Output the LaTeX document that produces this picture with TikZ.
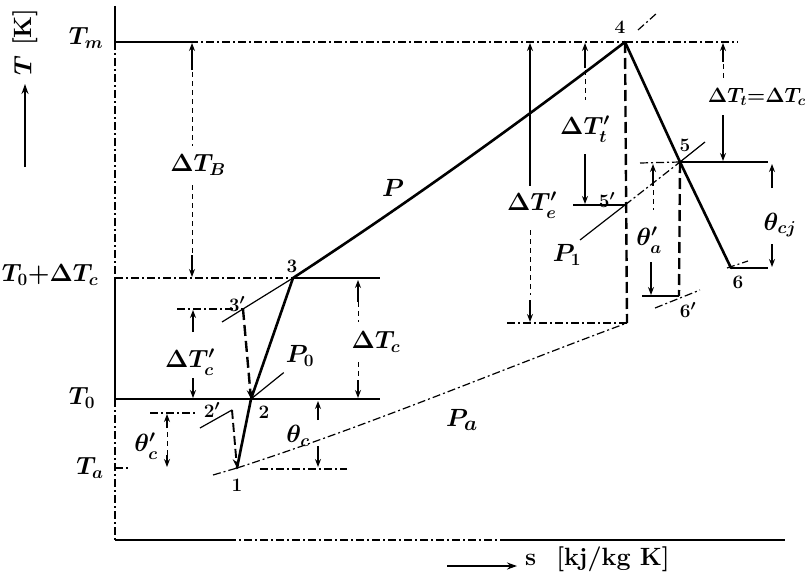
\documentclass[tikz,border=0pt]{standalone}
\usetikzlibrary{arrows.meta}
\begin{document}
\begin{tikzpicture}[x=1pt,y=-1pt,
  heavy/.style={line width=2.6pt, line join=round, line cap=round},
  thindraw/.style={line width=1.2pt},
  dashdraw/.style={line width=1.2pt, dash pattern=on 8pt off 3pt on 2pt off 3pt},
  bigdash/.style={line width=2.4pt, dash pattern=on 11pt off 5pt},
  dimtip/.style={line width=1.2pt, -{Stealth[length=8pt,width=6pt]}},
  dimdash/.style={line width=1pt, dash pattern=on 5pt off 4pt},
  lab/.style={font=\fontsize{24}{26}\selectfont\boldmath, inner sep=0pt},
  ptlab/.style={font=\fontsize{19}{22}\selectfont\bfseries\boldmath, inner sep=0pt}
]
\useasboundingbox (0,0) rectangle (810,578);

% ---- cycle points
\coordinate (p1) at (237,468);
\coordinate (p2) at (251,399);
\coordinate (p2p) at (232,410);
\coordinate (p3) at (293,278);
\coordinate (p3p) at (243,309);
\coordinate (p4) at (625,42);
\coordinate (p4b) at (627,323);
\coordinate (p5) at (680,162);
\coordinate (p5p) at (625,205);
\coordinate (p6) at (731,268);
\coordinate (p6p) at (679,296);

% ---- axes
\coordinate (ytop) at (115,6);
\coordinate (ym) at (115,42);
\coordinate (y3) at (115,278);
\coordinate (y0) at (115,399);
\coordinate (ya) at (115,468);
\coordinate (org) at (115,540);
\coordinate (xm1) at (228,540);
\coordinate (xm2) at (500,540);
\coordinate (xend) at (785,540);
\draw[line width=1.7pt] (ytop) -- (ym);
\draw[dashdraw] (ym) -- (y3);
\draw[thindraw] (y3) -- (y0);
\draw[dashdraw] (y0) -- (org);
\draw[thindraw] (org) -- (xm1);
\draw[dashdraw] (xm1) -- (xm2);
\draw[line width=1.5pt] (xm2) -- (xend);

% ---- level lines
\coordinate (tm1) at (190,42);
\coordinate (tm2) at (738,42);
\draw[thindraw] (ym) -- (tm1);
\draw[dashdraw] (tm1) -- (p4);
\draw[dashdraw] (p4) -- (tm2);
\coordinate (l3e) at (380,278);
\draw[dashdraw] (y3) -- (p3);
\draw[thindraw] (p3) -- (l3e);
\coordinate (l3ps) at (177,309);
\draw[dashdraw] (l3ps) -- (p3p);
\coordinate (l0e) at (380,399);
\draw[thindraw] (y0) -- (l0e);
\coordinate (l2ps) at (150,413);
\coordinate (l2pe) at (196,413);
\draw[dashdraw] (l2ps) -- (l2pe);
\coordinate (lae) at (130,468);
\draw[dashdraw] (ya) -- (lae);
\coordinate (l1s) at (260,469);
\coordinate (l1e) at (347,469);
\draw[dashdraw] (l1s) -- (l1e);
\coordinate (l5s) at (640,163);
\coordinate (l5e) at (768,162);
\draw[dashdraw] (l5s) -- (p5);
\draw[thindraw] (p5) -- (l5e);
\coordinate (l6e) at (768,268);
\draw[thindraw] (p6) -- (l6e);
\coordinate (l6ps) at (642,296);
\draw[thindraw] (l6ps) -- (p6p);
\coordinate (l5ps) at (573,205);
\draw[thindraw] (l5ps) -- (p5p);
\coordinate (l4bs) at (507,323);
\draw[dashdraw] (l4bs) -- (p4b);

% ---- isobars (thin)
\coordinate (i3s) at (222,322);
\draw[thindraw] (i3s) -- (p3);
\coordinate (i2ps) at (200,428);
\draw[thindraw] (i2ps) -- (p2p);
\coordinate (ias) at (213,475);
\draw[dashdraw] (ias) -- (p1);
\draw[dashdraw] (p1) .. controls (370,425) and (500,370) .. (p4b);
\coordinate (i1s) at (580,240);
\draw[thindraw] (i1s) -- (p5p);
\draw[dashdraw] (p5p) -- (p5);
\coordinate (i1e) at (705,142);
\draw[thindraw] (p5) -- (i1e);
\coordinate (i4s) at (638,30);
\coordinate (i4e) at (657,13);
\draw[dashdraw] (i4s) -- (i4e);
\coordinate (i6ps) at (655,308);
\coordinate (i6pe) at (700,290);
\draw[dashdraw] (i6ps) -- (i6pe);
\coordinate (i6s) at (727,268);
\coordinate (i6e) at (748,261);
\draw[dashdraw] (i6s) -- (i6e);

% ---- heavy process lines
\draw[heavy] (p1) -- (p2) -- (p3);
\draw[heavy] (p3) .. controls (400,208) and (510,130) .. (p4);
\draw[heavy] (p4) -- (p5) -- (p6);
\draw[bigdash] (p4) -- (p4b);
\draw[bigdash] (p5) -- (p6p);
\draw[bigdash, -{Stealth[length=9pt,width=7pt]}] (p3p) -- (p2);
\draw[line width=1.9pt, dash pattern=on 9pt off 4pt, -{Stealth[length=9pt,width=7pt]}] (p2p) -- (p1);

% ---- point labels
\node[ptlab] (n1) at (237,485) {1};
\node[ptlab] (n2) at (264,412) {2};
\node[ptlab] (n2p) at (212,410) {2$'$};
\node[ptlab] (n3) at (292,266) {3};
\node[ptlab] (n3p) at (237,304) {3$'$};
\node[ptlab] (n4) at (620,27) {4};
\node[ptlab] (n5) at (685,145) {5};
\node[ptlab] (n5p) at (607,200) {5$'$};
\node[ptlab] (n6) at (738,282) {6};
\node[ptlab] (n6p) at (688,310) {6$'$};

% ---- pressure labels
\node[font=\fontsize{36}{38}\selectfont\boldmath, inner sep=0pt] (lP) at (393,188) {$P$};
\node[font=\fontsize{30}{32}\selectfont\boldmath, inner sep=0pt] (lPa) at (462,420) {$P_a$};
\node[font=\fontsize{24}{26}\selectfont\boldmath, inner sep=0pt] (lP0) at (300,356) {$P_0$};
\draw[thindraw] (lP0.south west) ++(-2,6) coordinate (lp0a) -- (p2);
\node[font=\fontsize{26}{28}\selectfont\boldmath, inner sep=0pt] (lP1) at (567,255) {$P_1$};

% ---- axis temperature labels
\node[lab] (lTm) at (86,38) {$T_m$};
\node[lab] (lT3) at (50,275) {$T_0{+}\Delta T_c$};
\node[lab] (lT0) at (82,398) {$T_0$};
\node[lab] (lTa) at (90,468) {$T_a$};

% ---- axis titles
\node[font=\fontsize{25}{28}\selectfont\bfseries\boldmath, rotate=90, inner sep=0pt] (ylab) at (25,42) {$T$\hspace{10pt}[K]};
\coordinate (ya1) at (25,167);
\coordinate (ya2) at (25,84);
\draw[line width=1.7pt, -{Stealth[length=10pt,width=7pt]}] (ya1) -- (ya2);
\coordinate (xa1) at (447,566);
\coordinate (xa2) at (517,566);
\draw[line width=1.7pt, -{Stealth[length=10pt,width=7pt]}] (xa1) -- (xa2);
\node[font=\fontsize{25}{28}\selectfont\bfseries, anchor=base west, inner sep=0pt] (xlab) at (525,565) {s\hspace{20pt}[kj/kg K]};

% ---- dimension: Delta T_B
\draw[dimtip] (192,70) -- (192,43);
\draw[dimdash] (192,72) -- (192,146);
\node[lab] (lTB) at (198,165) {$\Delta T_B$};
\draw[dimdash] (192,185) -- (192,255);
\draw[dimtip] (192,255) -- (192,277);

% ---- Delta T'_c
\draw[dimtip] (193,332) -- (193,310);
\node[lab] (lTcp) at (190,362) {$\Delta T'_c$};
\draw[dimtip] (193,378) -- (193,398);

% ---- Delta T_c
\draw[dimtip] (358,302) -- (358,280);
\draw[dimdash] (358,302) -- (358,322);
\node[lab] (lTc) at (376,342) {$\Delta T_c$};
\draw[dimdash] (358,362) -- (358,380);
\draw[dimtip] (358,380) -- (358,398);

% ---- theta_c
\node[lab] (lthc) at (298,436) {$\theta_c$};
\draw[dimtip] (318,420) -- (318,401);
\draw[dimtip] (318,446) -- (318,467);

% ---- theta'_c
\draw[dimtip] (167,428) -- (167,414);
\node[lab] (lthcp) at (146,446) {$\theta'_c$};
\draw[dimdash] (167,432) -- (167,455);
\draw[dimtip] (167,455) -- (167,467);

% ---- Delta T'_e
\draw[dimtip] (530,68) -- (530,43);
\draw[thindraw] (530,68) -- (530,186);
\node[lab] (lTep) at (532,205) {$\Delta T'_e$};
\draw[dimdash] (530,230) -- (530,295);
\draw[dimtip] (530,300) -- (530,322);

% ---- Delta T'_t
\draw[dimtip] (585,68) -- (585,43);
\draw[dimdash] (585,70) -- (585,100);
\node[lab] (lTtp) at (585,129) {$\Delta T'_t$};
\draw[dimtip] (585,154) -- (585,204);

% ---- Delta T_t = Delta T_c
\draw[dimtip] (723,62) -- (723,43);
\draw[dimdash] (723,64) -- (723,80);
\node[font=\fontsize{20}{22}\selectfont\boldmath, inner sep=0pt, anchor=east] (lTt) at (806,97) {$\Delta T_t{=}\Delta T_c$};
\draw[dimtip] (723,115) -- (723,161);

% ---- theta_cj
\draw[dimtip] (772,188) -- (772,164);
\node[lab] (lthcj) at (780,225) {$\theta_{cj}$};
\draw[dimtip] (772,244) -- (772,267);

% ---- theta'_a
\draw[dimtip] (653,186) -- (653,164);
\draw[dimdash] (653,190) -- (653,210);
\node[lab] (lthap) at (649,240) {$\theta'_a$};
\draw[dimtip] (651,262) -- (651,295);

\end{tikzpicture}
\end{document}
